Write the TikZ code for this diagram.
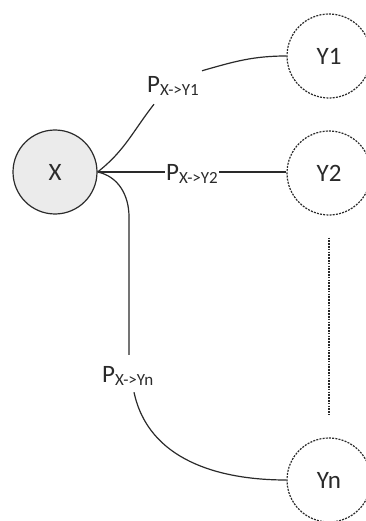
\documentclass[tikz,border=0pt]{standalone}
\usepackage{fontspec}
\setmainfont{Carlito}
\newcommand\bigsz{\fontsize{25}{30}\selectfont}
\newcommand\subsz{\fontsize{17}{20}\selectfont}
\newcommand\plab[1]{P{\subsz\raisebox{-3pt}{#1}}}
\definecolor{ink}{HTML}{2A2A2A}
\definecolor{xfill}{HTML}{EBEBEB}
\begin{document}
\begin{tikzpicture}[x=1pt,y=-1pt,
  xnode/.style={circle,draw=ink,line width=1.2pt,fill=xfill,minimum size=84pt,inner sep=0pt,font=\bigsz,text=ink},
  ynode/.style={circle,draw=ink,line width=1.2pt,dash pattern=on 2pt off 1.2pt,fill=white,minimum size=84pt,inner sep=0pt,font=\bigsz,text=ink},
  lab/.style={inner sep=0pt,font=\bigsz,text=ink},
  conn/.style={draw=ink,line width=1.2pt}]
\useasboundingbox (0,0) rectangle (366,521);
\node[xnode] (X) at (55,172) {X};
\node[ynode] (Y1) at (329,56) {Y1};
\node[ynode] (Y2) at (329,173) {Y2};
\node[ynode] (Yn) at (329,480) {Yn};
\node[lab,anchor=base west] (p1) at (147,93) {\plab{X->Y1}};
\node[lab,anchor=base west] (p3) at (102,382) {\plab{X->Yn}};
\coordinate (c3) at (129,217);
% X -> Y1
\draw[conn] (X.east) to[out=38,in=-128] ([shift={(7,8)}]p1.south west);
\draw[conn] ([shift={(3,-6)}]p1.north east) to[out=16,in=180] (Y1.west);
% X -> Y2
\draw[conn] (X.east) -- node[lab,fill=white,inner sep=1pt,yshift=-2pt] (p2) {\plab{X->Y2}} (X.east -| Y2.west);
% X -> Yn
\draw[conn] (X.east) to[out=-12,in=90] (c3) -- ([shift={(27,-11)}]p3.north west);
\draw[conn] ([shift={(32,7)}]p3.south west) to[out=-78,in=180] (Yn.west);
% dotted continuation
\draw[draw=ink,line width=1.2pt,dash pattern=on 1.6pt off 1.2pt] (Y2.south) ++(0,22) coordinate (d1) -- (d1 |- 0,415) coordinate (d2);
\end{tikzpicture}
\end{document}
